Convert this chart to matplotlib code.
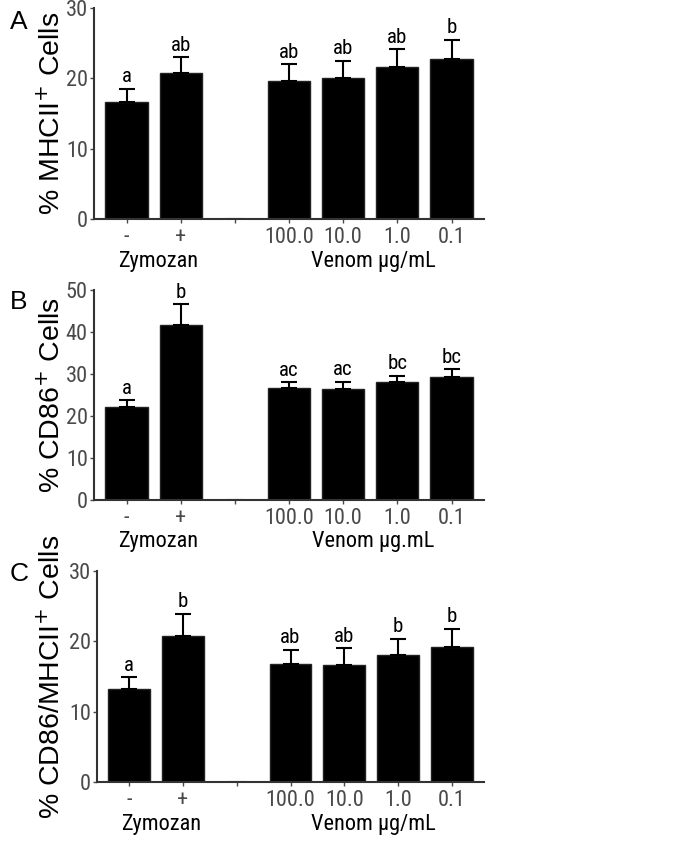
import numpy as np
import matplotlib
matplotlib.use("Agg")
import matplotlib.pyplot as plt

# --- data ---
tick_labels = ["-", "+", "", "100.0", "10.0", "1.0", "0.1"]
bar_pos = [0, 1, 3, 4, 5, 6]

mhc_mean = [16.6, 20.7, 19.6, 20.0, 21.6, 22.7]
mhc_err = [1.9, 2.3, 2.4, 2.5, 2.5, 2.8]
mhc_sig = ["a", "ab", "ab", "ab", "ab", "b"]

cd86_mean = [22.1, 41.6, 26.6, 26.4, 28.0, 29.2]
cd86_err = [1.7, 5.0, 1.4, 1.8, 1.6, 1.9]
cd86_sig = ["a", "b", "ac", "ac", "bc", "bc"]

dbl_mean = [13.2, 20.7, 16.8, 16.7, 18.1, 19.2]
dbl_err = [1.7, 3.2, 2.0, 2.3, 2.3, 2.6]
dbl_sig = ["a", "b", "ab", "ab", "b", "b"]

NARROW = ["Roboto Condensed", "Archivo Narrow", "Liberation Sans", "DejaVu Sans"]
SANS = ["Liberation Sans", "DejaVu Sans"]
GREY = "#4a4a4a"

W, H = 685, 842
fig = plt.figure(figsize=(W / 100, H / 100), dpi=100)


def px_axes(left, right, top, bottom):
    return fig.add_axes([left / W, 1 - bottom / H, (right - left) / W, (bottom - top) / H])


def panel(ax, mean, err, sig, ymax, ystep, ylabel, venom_lab, lab_x):
    ax.bar(bar_pos, mean, width=0.78, color="black", edgecolor="#222222", linewidth=1)
    ax.errorbar(bar_pos, mean, yerr=[np.zeros(len(err)), err], fmt="none",
                ecolor="black", elinewidth=1.5, capsize=6, capthick=1.5)
    ax.plot([1.85, 2.15], [0, 0], color="#333333", lw=1.5)
    off = ymax * 0.012
    for x, m, e, s in zip(bar_pos, mean, err, sig):
        ax.text(x, m + e + off, s, ha="center", va="bottom", fontsize=15,
                family=NARROW)
    ax.set_xlim(-0.6, 6.6)
    ax.set_ylim(0, ymax)
    ax.set_yticks(np.arange(0, ymax + 1, ystep))
    ax.set_xticks(range(7))
    ax.set_xticklabels(tick_labels)
    for sp in ["top", "right"]:
        ax.spines[sp].set_visible(False)
    for sp in ["left", "bottom"]:
        ax.spines[sp].set_linewidth(1.5)
        ax.spines[sp].set_color("#333333")
    ax.tick_params(axis="both", colors=GREY, labelsize=16, width=1, length=3)
    ax.tick_params(axis="y", pad=1.5)
    ax.tick_params(axis="x", pad=3)
    for t in ax.get_xticklabels() + ax.get_yticklabels():
        t.set_family(NARROW)
    ax.set_ylabel(ylabel, fontsize=20.5, family=SANS)
    ax.yaxis.set_label_coords(lab_x, 0.5)
    ax.text(0.59, -0.2, "Zymozan", transform=ax.get_xaxis_transform(), ha="center",
            va="center", fontsize=16, family=NARROW)
    ax.text(4.55, -0.2, venom_lab, transform=ax.get_xaxis_transform(), ha="center",
            va="center", fontsize=16, family=NARROW)
    return ax


axA = px_axes(94, 484, 8, 219)
panel(axA, mhc_mean, mhc_err, mhc_sig, 30, 10, "% MHCII$^{+}$ Cells",
      "Venom µg/mL", -0.072)
axB = px_axes(94, 484, 290, 500)
panel(axB, cd86_mean, cd86_err, cd86_sig, 50, 10, "% CD86$^{+}$ Cells",
      "Venom µg.mL", -0.072)
axC = px_axes(97, 484, 571, 782)
panel(axC, dbl_mean, dbl_err, dbl_sig, 30, 10, "% CD86/MHCII$^{+}$ Cells",
      "Venom µg/mL", -0.08)

for letter, y in [("A", 22), ("B", 302), ("C", 574)]:
    fig.text(19 / W, 1 - y / H, letter, ha="center", va="center", fontsize=19,
             family=SANS)

fig.savefig("out.png", dpi=100)
